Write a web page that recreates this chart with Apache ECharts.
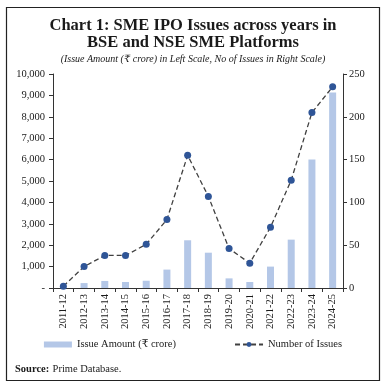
<!DOCTYPE html>
<html><head><meta charset="utf-8">
<script src="https://cdn.jsdelivr.net/npm/echarts@6/dist/echarts.min.js"></script>
<style>html,body{margin:0;padding:0;background:#fff}#c{width:386px;height:389px}</style>
</head><body><div id="c"></div>
<script>
const categories = ['2011-12','2012-13','2013-14','2014-15','2015-16','2016-17','2017-18','2018-19','2019-20','2020-21','2021-22','2022-23','2023-24','2024-25'];
const issueAmount = [20, 230, 330, 280, 340, 860, 2230, 1650, 450, 280, 1000, 2260, 6000, 9140];
const numIssues = [2, 25, 38, 38, 51, 80, 155, 107, 46, 29, 71, 126, 205, 235];
const leftTicks = [0, 1000, 2000, 3000, 4000, 5000, 6000, 7000, 8000, 9000, 10000];
const rightTicks = [0, 50, 100, 150, 200, 250];

const serif = '"Liberation Serif", "DejaVu Serif", serif';
const chart = echarts.init(document.getElementById('c'), null, {renderer: 'canvas'});
chart.setOption({
  animation: false,
  backgroundColor: '#fff',
  title: [
    {text: 'Chart 1: SME IPO Issues across years in\nBSE and NSE SME Platforms', left: 'center', top: 12,
     textStyle: {fontFamily: serif, fontSize: 16.5, fontWeight: 'bold', color: '#1a1a1a', lineHeight: 17}},
    {text: '(Issue Amount (₹ crore) in Left Scale, No of Issues in Right Scale)', left: 'center', top: 49,
     textStyle: {fontFamily: serif, fontSize: 10, fontStyle: 'italic', fontWeight: 'normal', color: '#1a1a1a'}}
  ],
  graphic: [
    {type: 'rect', shape: {x: 6.5, y: 7.5, width: 373, height: 373}, style: {fill: 'none', stroke: '#222', lineWidth: 1.2}},
    {type: 'text', left: 15, top: 363, style: {rich: {b: {fontWeight: 'bold', fontFamily: serif, fontSize: 10.5, fill: '#1a1a1a'}, n: {fontFamily: serif, fontSize: 10.5, fill: '#1a1a1a'}}, text: '{b|Source:} {n|Prime Database.}'}}
  ],
  legend: {
    bottom: 34, itemGap: 58, itemWidth: 28, itemHeight: 6,
    textStyle: {fontFamily: serif, fontSize: 10.5, color: '#1a1a1a'},
    data: [{name: 'Issue Amount (₹ crore)', icon: 'rect'}, {name: 'Number of Issues'}]
  },
  grid: {left: 53, right: 43, top: 74, bottom: 101},
  xAxis: {
    type: 'category', data: categories,
    axisLine: {lineStyle: {color: '#333'}},
    axisTick: {show: true, alignWithLabel: false, length: 4, lineStyle: {color: '#333'}},
    axisLabel: {rotate: 90, fontFamily: serif, fontSize: 10.5, color: '#1a1a1a', margin: 6, interval: 0}
  },
  yAxis: [
    {type: 'value', min: 0, max: 10000, interval: 1000,
     axisLine: {show: true, lineStyle: {color: '#333'}},
     axisTick: {show: true, inside: false, length: 4, lineStyle: {color: '#333'}},
     splitLine: {show: false},
     axisLabel: {fontFamily: serif, fontSize: 10.5, color: '#1a1a1a', margin: 8,
       formatter: v => leftTicks.includes(v) ? (v === 0 ? '-' : v.toLocaleString('en-US')) : ''}},
    {type: 'value', min: 0, max: 250, interval: 50, position: 'right',
     axisLine: {show: true, lineStyle: {color: '#333'}},
     axisTick: {show: true, length: 4, lineStyle: {color: '#333'}},
     splitLine: {show: false},
     axisLabel: {fontFamily: serif, fontSize: 10.5, color: '#1a1a1a', margin: 6,
       formatter: v => rightTicks.includes(v) ? String(v) : ''}}
  ],
  series: [
    {name: 'Issue Amount (₹ crore)', type: 'bar', data: issueAmount, yAxisIndex: 0, barWidth: 7,
     itemStyle: {color: '#b4c7e7'}},
    {name: 'Number of Issues', type: 'line', data: numIssues, yAxisIndex: 1,
     symbol: 'circle', symbolSize: 7,
     lineStyle: {color: '#404040', width: 1.3, type: [5, 3]},
     itemStyle: {color: '#2f5597', borderWidth: 0}}
  ]
});
</script></body></html>
